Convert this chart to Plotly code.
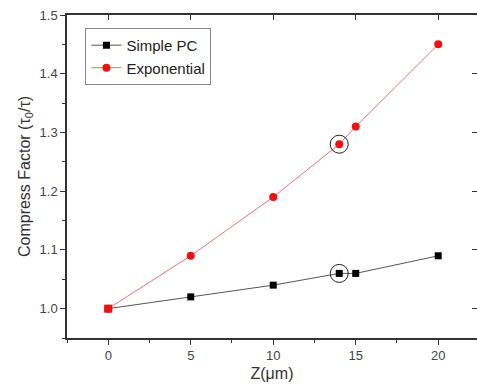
import plotly.graph_objects as go

z_simple = [0, 5, 10, 14, 15, 20]
cf_simple = [1.00, 1.02, 1.04, 1.06, 1.06, 1.09]
z_exp = [0, 5, 10, 14, 15, 20]
cf_exp = [1.00, 1.09, 1.19, 1.28, 1.31, 1.45]
z_mark = [14, 14]
cf_mark = [1.06, 1.28]

x_range = [-2.5, 22.35]
y_range = [0.95, 1.5]

fig = go.Figure()
fig.add_trace(go.Scatter(
    x=z_simple, y=cf_simple, mode="lines+markers", name="Simple PC",
    line=dict(color="#555555", width=1),
    marker=dict(symbol="square", size=7, color="black"),
))
fig.add_trace(go.Scatter(
    x=z_exp, y=cf_exp, mode="lines+markers", name="Exponential",
    line=dict(color="#f07070", width=1),
    marker=dict(symbol="circle", size=8, color="#ee1111"),
))
# red square drawn over the shared starting point
fig.add_trace(go.Scatter(
    x=z_exp[:1], y=cf_exp[:1], mode="markers", showlegend=False,
    marker=dict(symbol="square", size=8, color="#ee1111"),
))
fig.add_trace(go.Scatter(
    x=z_mark, y=cf_mark, mode="markers", showlegend=False,
    marker=dict(symbol="circle-open", size=18, color="#222222", line=dict(width=1)),
))
# dummy trace for top/right axes
fig.add_trace(go.Scatter(x=[None], y=[None], xaxis="x2", yaxis="y2", showlegend=False))

tickfont = dict(family="Liberation Sans, Arial", size=13, color="#444444")
titlefont = dict(family="Liberation Sans, Arial", size=16, color="#333333")
fig.update_layout(
    width=477, height=392,
    margin=dict(l=67, r=0, t=15, b=54),
    paper_bgcolor="white", plot_bgcolor="white",
    showlegend=True,
    legend=dict(x=0.045, y=0.96, xanchor="left", yanchor="top",
                bordercolor="#888888", borderwidth=1, bgcolor="white",
                font=dict(family="Liberation Sans, Arial", size=15, color="#222222"),
                tracegroupgap=0),
    xaxis=dict(range=x_range, tickvals=[0, 5, 10, 15, 20], ticks="outside", ticklen=5,
               tickwidth=1.2, tickcolor="#333333",
               showline=True, linecolor="#333333", linewidth=1.5, showgrid=False, zeroline=False,
               minor=dict(tickvals=[-2.5, 2.5, 7.5, 12.5, 17.5, 22.5], ticks="outside", ticklen=3, tickcolor="#333333"),
               tickfont=tickfont,
               title=dict(text="Z(μm)", font=titlefont, standoff=5)),
    yaxis=dict(range=y_range, tickvals=[1.0, 1.1, 1.2, 1.3, 1.4, 1.5], tickformat=".1f",
               ticks="outside", ticklen=5, tickwidth=1.2, tickcolor="#333333",
               showline=True, linecolor="#333333", linewidth=1.5, showgrid=False, zeroline=False,
               minor=dict(tickvals=[0.95, 1.05, 1.15, 1.25, 1.35, 1.45], ticks="outside", ticklen=3, tickcolor="#333333"),
               tickfont=tickfont,
               title=dict(text="Compress Factor (τ<sub>0</sub>/τ)", font=titlefont, standoff=5)),
    xaxis2=dict(range=x_range, overlaying="x", side="top", anchor="y2",
                tickvals=[0, 5, 10, 15, 20], ticks="inside", ticklen=5, tickcolor="#333333",
                showticklabels=False, showline=True, linecolor="#333333", linewidth=1.5,
                showgrid=False, zeroline=False),
    yaxis2=dict(range=y_range, overlaying="y", side="right", anchor="x2",
                tickvals=[1.0, 1.1, 1.2, 1.3, 1.4, 1.5], ticks="inside", ticklen=5, tickcolor="#333333",
                showticklabels=False, showline=False, showgrid=False, zeroline=False),
)

fig.write_html("out.html")
